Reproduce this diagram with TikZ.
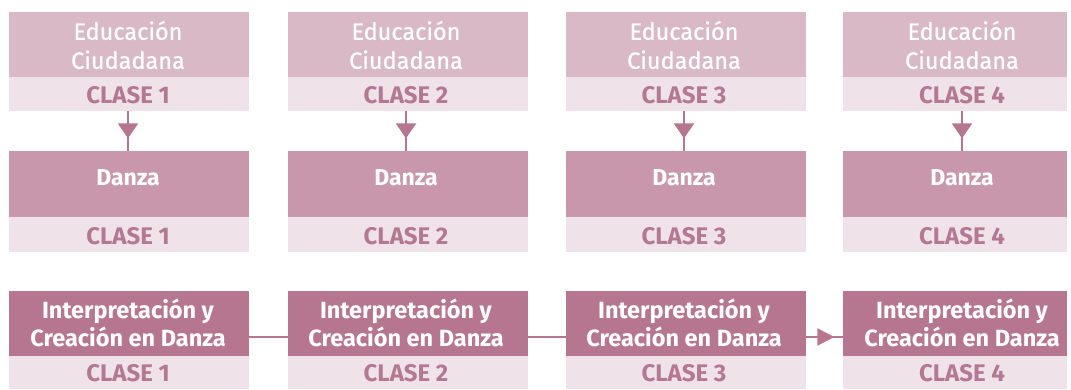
\documentclass[tikz,border=0pt]{standalone}
\usepackage{fontspec}
\setmainfont{Fira Sans}
\newfontfamily\medfont{Fira Sans}[FakeBold=0.8]
\usetikzlibrary{arrows.meta,decorations.markings}
\definecolor{edcol}{HTML}{D9B9C5}
\definecolor{dzcol}{HTML}{C997AB}
\definecolor{incol}{HTML}{B7768F}
\definecolor{bandcol}{HTML}{EFE2E8}
\definecolor{bandtxt}{HTML}{B47892}
\definecolor{linecol}{HTML}{B7768F}
\tikzset{
  boxbase/.style={rectangle, inner sep=0pt, minimum width=240pt, text=white, align=center},
  edbox/.style={boxbase, fill=edcol, minimum height=65pt},
  dzbox/.style={boxbase, fill=dzcol, minimum height=66pt},
  inbox/.style={boxbase, fill=incol, minimum height=65pt},
  band/.style={rectangle, inner sep=0pt, minimum width=240pt, fill=bandcol},
  lbl/.style={inner sep=0pt, align=center},
  clase/.style={lbl, text=bandtxt, font=\fontsize{24}{26}\selectfont\bfseries},
  conn/.style={draw=linecol, line width=2pt},
  vtip/.style={conn, decoration={markings, mark=at position 27pt with {\arrow{Triangle[length=15pt,width=20pt]}}}, postaction=decorate},
  htip/.style={conn, decoration={markings, mark=at position 28pt with {\arrow{Triangle[length=17pt,width=17pt]}}}, postaction=decorate},
}
\begin{document}
\begin{tikzpicture}[x=1pt,y=-1pt]
\useasboundingbox (0,0) rectangle (1071,389);
\foreach \i/\xl/\w in {1/9/240,2/288/240,3/566/240,4/843/224}{
  \node[edbox, minimum width=\w pt, anchor=north west] (e\i) at (\xl,12) {};
  \node[band, minimum width=\w pt, minimum height=34pt, anchor=north west] (be\i) at (\xl,77) {};
  \node[dzbox, minimum width=\w pt, anchor=north west] (d\i) at (\xl,151) {};
  \node[band, minimum width=\w pt, minimum height=35pt, anchor=north west] (bd\i) at (\xl,217) {};
  \node[inbox, minimum width=\w pt, anchor=north west] (n\i) at (\xl,291) {};
  \node[band, minimum width=\w pt, minimum height=33pt, anchor=north west] (bn\i) at (\xl,356) {};
}
\foreach \i/\xc in {1/128,2/406,3/684,4/962}{
  \node[lbl, text=white, font=\medfont\fontsize{23.5}{29}\selectfont] (te\i) at (\xc,45) {Educación\\Ciudadana};
  \node[clase] (tbe\i) at (\xc,95) {CLASE \i};
  \node[lbl, text=white, font=\fontsize{23}{26}\selectfont\bfseries] (td\i) at (\xc,178) {Danza};
  \node[clase] (tbd\i) at (\xc,236) {CLASE \i};
  \node[lbl, text=white, font=\fontsize{23.5}{28}\selectfont\bfseries] (tn\i) at (\xc,323) {Interpretación y\\Creación en Danza};
  \node[clase] (tbn\i) at (\xc,373) {CLASE \i};
}
\foreach \i in {1,2,3,4}{ \draw[vtip] (tbe\i.center |- be\i.south) -- (tbe\i.center |- d\i.north); }
\draw[conn] (n1.east |- 0,337) -- (n2.west |- 0,337);
\draw[conn] (n2.east |- 0,337) -- (n3.west |- 0,337);
\draw[htip] (n3.east |- 0,337) -- (n4.west |- 0,337);
\end{tikzpicture}
\end{document}
